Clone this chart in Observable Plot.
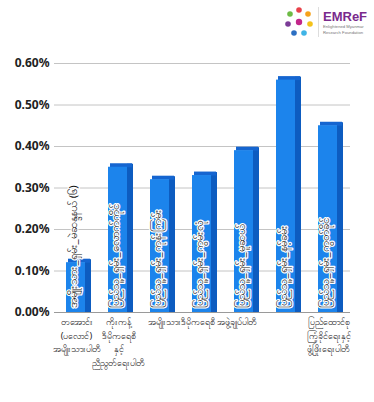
<!DOCTYPE html>
<html>
<head>
<meta charset="utf-8">
<script src="https://cdn.jsdelivr.net/npm/d3@7"></script>
<script src="https://cdn.jsdelivr.net/npm/@observablehq/plot@0.6"></script>
<style>
  html, body { margin: 0; padding: 0; background: #fff; }
  #wrap { position: relative; width: 374px; height: 402px; font-family: "Noto Sans", "DejaVu Sans", sans-serif; }
  #logo { position: absolute; left: 284px; top: 6px; display: flex; align-items: center; }
  #logo .sep { width: 1px; height: 30px; background: #ddd; margin: 0 4px 0 4px; }
  #logo .name { color: #7a2a8c; font-weight: bold; font-size: 13px; line-height: 15px; font-family: "Liberation Sans", Arial, sans-serif; }
  #logo .sub { color: #777; font-size: 4.2px; line-height: 5.5px; font-family: "Liberation Sans", Arial, sans-serif; }
</style>
</head>
<body>
<div id="wrap">
  <div id="chart"></div>
  <div id="logo">
    <svg width="30" height="32" viewBox="0 0 30 32">
      <circle cx="15" cy="4" r="2.8" fill="#e8414a"/>
      <circle cx="24" cy="8" r="2.8" fill="#f6a21b"/>
      <circle cx="26" cy="18" r="2.8" fill="#f4c21a"/>
      <circle cx="20" cy="27" r="2.8" fill="#3fb4e6"/>
      <circle cx="10" cy="27" r="2.8" fill="#2c6fc2"/>
      <circle cx="4" cy="18" r="2.8" fill="#7b3c97"/>
      <circle cx="6" cy="8" r="2.8" fill="#6dbb45"/>
      <circle cx="15" cy="16" r="3.2" fill="#c2268a"/>
    </svg>
    <div class="sep"></div>
    <div>
      <div class="name">EMReF</div>
      <div class="sub">Enlightened Myanmar<br>Research Foundation</div>
    </div>
  </div>
</div>
<script>
const categories = [
  "အမျိုးသား_ရှမ်း_မဲဆန္ဒနယ် (၆)",
  "ပြည်သူ့_ရှမ်း_လောက်ကိုင်",
  "ပြည်သူ့_ရှမ်း_ကုန်းကြမ်း",
  "ပြည်သူ့_ရှမ်း_ကွမ်းလုံ",
  "ပြည်သူ့_ရှမ်း_မူဆယ်",
  "ပြည်သူ့_ရှမ်း_နမ့်ခမ်း",
  "ပြည်သူ့_ရှမ်း_ကွတ်ခိုင်"
];
const values = [0.0012, 0.0035, 0.0032, 0.0033, 0.0039, 0.0056, 0.0045];
const partyLabels = [
  "တအောင်း\n(ပလောင်)\nအမျိုးသားပါတီ",
  "ကိုးကန့်\nဒီမိုကရေစီ\nနှင့်\nညီညွတ်ရေးပါတီ",
  "",
  "အမျိုးသားဒီမိုကရေစီ အဖွဲ့ချုပ်ပါတီ",
  "",
  "",
  "ပြည်ထောင်စု\nကြံ့ခိုင်ရေးနှင့်\nဖွံ့ဖြိုးရေးပါတီ"
];
const yTicks = [0, 0.001, 0.002, 0.003, 0.004, 0.005, 0.006];

const idx = d3.range(categories.length);
const X = i => categories[i];
const Y = i => values[i];

const chart = Plot.plot({
  width: 374,
  height: 402,
  marginTop: 63,
  marginBottom: 90,
  marginLeft: 54,
  marginRight: 24,
  style: {fontFamily: "'Noto Sans', 'DejaVu Sans', sans-serif", background: "transparent"},
  x: {domain: categories, padding: 0, axis: null},
  y: {domain: [0, 0.006], axis: null},
  marks: [
    Plot.ruleY(yTicks.slice(1), {stroke: "#c4c4c4", strokeWidth: 1}),
    Plot.axisY(yTicks, {
      tickFormat: d3.format(".2%"), tickSize: 0, tickPadding: 5,
      fontSize: 12, fontWeight: "bold", fill: "#222", line: true, stroke: "#9a9a9a"
    }),
    Plot.barY(idx, {x: X, y: Y, fill: "#0d5cc0", insetLeft: 30, insetRight: 6}),
    Plot.barY(idx, {x: X, y: Y, fill: "#0d5cc0", insetLeft: 30, insetRight: 6, dy: -3}),
    Plot.tickY(idx, {x: X, y: Y, stroke: "#1565d0", strokeWidth: 4, insetLeft: 13, insetRight: 7, dy: -2}),
    Plot.barY(idx, {x: X, y: Y, fill: "#1c84ec", insetLeft: 11, insetRight: 12}),
    Plot.ruleY([0], {stroke: "#9a9a9a", strokeWidth: 1}),
    Plot.text(idx, {
      x: X, y: 0, text: X, rotate: -90, textAnchor: "start",
      dx: -3, dy: -5, fontSize: 11.5, fill: "#111", stroke: "white", strokeWidth: 2.5
    }),
    Plot.text(idx, {
      x: X, y: 0, text: i => partyLabels[i], lineAnchor: "top",
      dy: 3, fontSize: 9, lineHeight: 1.5, fill: "#222"
    })
  ]
});
document.getElementById("chart").appendChild(chart);
</script>
</body>
</html>
